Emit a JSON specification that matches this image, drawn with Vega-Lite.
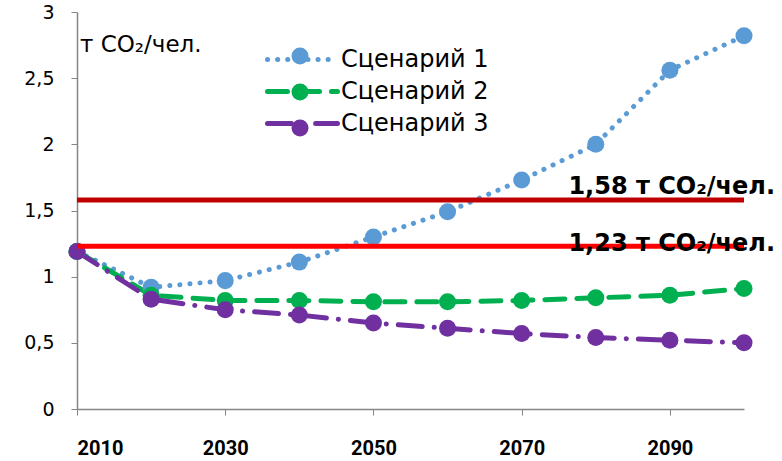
{
  "$schema": "https://vega.github.io/schema/vega-lite/v6.json",
  "width": 667,
  "height": 397,
  "autosize": "none",
  "padding": {"left": 77, "top": 12, "right": 38, "bottom": 52},
  "background": "white",
  "config": {
    "view": {"stroke": null},
    "font": "DejaVu Sans",
    "axis": {"grid": false, "domainColor": "#868686", "tickColor": "#868686", "domainWidth": 1.5, "tickWidth": 1}
  },
  "datasets": {
    "series": [
      {"year": 2010, "scenario": "Сценарий 1", "value": 1.19},
      {"year": 2020, "scenario": "Сценарий 1", "value": 0.92},
      {"year": 2030, "scenario": "Сценарий 1", "value": 0.97},
      {"year": 2040, "scenario": "Сценарий 1", "value": 1.11},
      {"year": 2050, "scenario": "Сценарий 1", "value": 1.30},
      {"year": 2060, "scenario": "Сценарий 1", "value": 1.49},
      {"year": 2070, "scenario": "Сценарий 1", "value": 1.73},
      {"year": 2080, "scenario": "Сценарий 1", "value": 2.00},
      {"year": 2090, "scenario": "Сценарий 1", "value": 2.56},
      {"year": 2100, "scenario": "Сценарий 1", "value": 2.82},
      {"year": 2010, "scenario": "Сценарий 2", "value": 1.19},
      {"year": 2020, "scenario": "Сценарий 2", "value": 0.86},
      {"year": 2030, "scenario": "Сценарий 2", "value": 0.82},
      {"year": 2040, "scenario": "Сценарий 2", "value": 0.82},
      {"year": 2050, "scenario": "Сценарий 2", "value": 0.81},
      {"year": 2060, "scenario": "Сценарий 2", "value": 0.81},
      {"year": 2070, "scenario": "Сценарий 2", "value": 0.82},
      {"year": 2080, "scenario": "Сценарий 2", "value": 0.84},
      {"year": 2090, "scenario": "Сценарий 2", "value": 0.86},
      {"year": 2100, "scenario": "Сценарий 2", "value": 0.91},
      {"year": 2010, "scenario": "Сценарий 3", "value": 1.19},
      {"year": 2020, "scenario": "Сценарий 3", "value": 0.83},
      {"year": 2030, "scenario": "Сценарий 3", "value": 0.75},
      {"year": 2040, "scenario": "Сценарий 3", "value": 0.71},
      {"year": 2050, "scenario": "Сценарий 3", "value": 0.65},
      {"year": 2060, "scenario": "Сценарий 3", "value": 0.61},
      {"year": 2070, "scenario": "Сценарий 3", "value": 0.57},
      {"year": 2080, "scenario": "Сценарий 3", "value": 0.54},
      {"year": 2090, "scenario": "Сценарий 3", "value": 0.52},
      {"year": 2100, "scenario": "Сценарий 3", "value": 0.50}
    ],
    "limits": [
      {"limit": 1.58, "labelPos": 1.675, "label": "1,58 т CO₂/чел.", "kind": "a"},
      {"limit": 1.23, "labelPos": 1.245, "label": "1,23 т CO₂/чел.", "kind": "b"}
    ],
    "unit": [
      {"year": 2010, "value": 2.75, "label": "т CO₂/чел."}
    ]
  },
  "layer": [
    {
      "data": {"name": "series"},
      "mark": {"type": "line", "strokeWidth": 5, "strokeCap": "round"},
      "encoding": {
        "x": {"field": "year", "type": "quantitative", "scale": {"domain": [2010, 2100], "nice": false, "zero": false},
              "axis": {"title": null, "values": [2010, 2030, 2050, 2070, 2090], "format": "d", "tickSize": 6, "labelPadding": 23,
                       "labelFont": "Roboto", "labelFontWeight": "bold", "labelFontSize": 20, "labelColor": "black"}},
        "y": {"field": "value", "type": "quantitative", "scale": {"domain": [0, 3], "nice": false},
              "axis": {"title": null, "values": [0, 0.5, 1, 1.5, 2, 2.5, 3], "format": ".1~f", "tickSize": 6, "labelPadding": 17,
                       "labelExpr": "replace(datum.label, '.', ',')", "labelFontSize": 19, "labelColor": "black"}},
        "color": {"field": "scenario", "type": "nominal",
                  "scale": {"domain": ["Сценарий 1", "Сценарий 2", "Сценарий 3"], "range": ["#5B9BD5", "#00B050", "#7030A0"]},
                  "legend": {"title": null, "orient": "none", "legendX": 213, "legendY": 35, "padding": 0,
                             "labelFontSize": 24, "labelColor": "black", "labelOffset": 26,
                             "symbolType": "M-3.5,0H3.5",
                             "symbolSize": 400, "symbolStrokeWidth": 5, "rowPadding": 7,
                             "encode": {"symbols": {"update": {"strokeCap": {"value": "round"}}}}}},
        "strokeDash": {"field": "scenario", "type": "nominal",
                       "scale": {"domain": ["Сценарий 1", "Сценарий 2", "Сценарий 3"], "range": [[0.1, 10], [20, 12], [24, 12, 0.1, 12]]},
                       "legend": null}
      }
    },
    {
      "data": {"name": "series"},
      "mark": {"type": "point", "filled": true, "opacity": 1, "size": 290, "shape": "circle", "strokeWidth": 0},
      "encoding": {
        "x": {"field": "year", "type": "quantitative"},
        "y": {"field": "value", "type": "quantitative"},
        "fill": {"field": "scenario", "type": "nominal",
                 "scale": {"domain": ["Сценарий 1", "Сценарий 2", "Сценарий 3", " "], "range": ["#5B9BD5", "#00B050", "#7030A0", "rgba(0,0,0,0)"]},
                 "legend": {"title": null, "orient": "none", "legendX": 214, "legendY": 35, "padding": 0,
                            "symbolType": "circle", "symbolSize": 290, "symbolStrokeWidth": 0, "symbolOpacity": 1,
                            "labelExpr": "''", "labelFontSize": 1, "labelOffset": 0, "rowPadding": 18}}
      }
    },
    {
      "data": {"name": "limits"},
      "mark": {"type": "rule", "strokeWidth": 5},
      "encoding": {
        "y": {"field": "limit", "type": "quantitative"},
        "stroke": {"field": "kind", "type": "nominal", "scale": {"domain": ["a", "b"], "range": ["#C00000", "#FF0000"]}, "legend": null}
      }
    },
    {
      "data": {"name": "limits"},
      "mark": {"type": "text", "align": "right", "baseline": "middle", "dx": 31, "font": "DejaVu Sans", "fontSize": 24, "fontWeight": "bold", "color": "black"},
      "encoding": {"x": {"datum": 2100}, "y": {"field": "labelPos", "type": "quantitative"}, "text": {"field": "label"}}
    },
    {
      "data": {"name": "unit"},
      "mark": {"type": "text", "align": "left", "baseline": "middle", "dx": 3, "font": "DejaVu Sans", "fontSize": 23, "color": "black"},
      "encoding": {"x": {"field": "year", "type": "quantitative"}, "y": {"field": "value", "type": "quantitative"}, "text": {"field": "label"}}
    }
  ]
}
